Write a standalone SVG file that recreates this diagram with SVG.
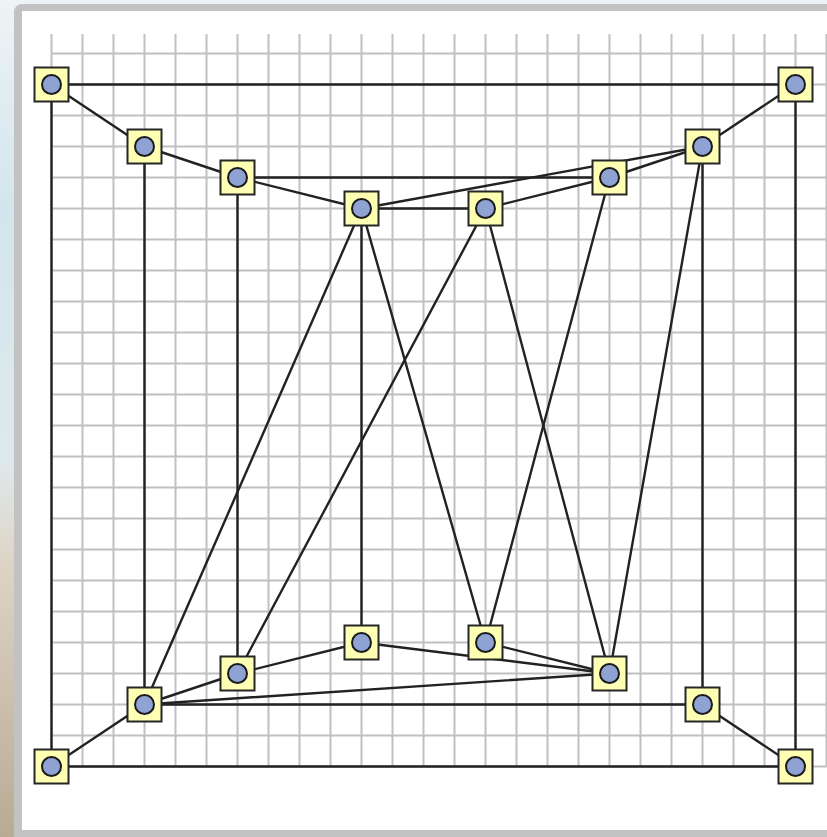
<svg xmlns="http://www.w3.org/2000/svg" width="827" height="837" viewBox="0 0 827 837">
<defs>
<linearGradient id="bg" x1="0" y1="0" x2="0" y2="1">
<stop offset="0" stop-color="#eef3f5"/>
<stop offset="0.25" stop-color="#d3e5ec"/>
<stop offset="0.55" stop-color="#dfe9ec"/>
<stop offset="0.68" stop-color="#ddd3c4"/>
<stop offset="1" stop-color="#b8ab95"/>
</linearGradient>
</defs>
<style>
.edge{stroke:#222;stroke-width:2.4;fill:none;stroke-linecap:round}
.sq{fill:#ffffb3;stroke:#262626;stroke-width:2}
.dot{fill:#8ea2d4;stroke:#1a1a1a;stroke-width:2}
.gl{stroke:#c0c0c0;stroke-width:2;fill:none}
</style>
<rect width="827" height="837" fill="url(#bg)"/>
<rect x="14" y="4" width="830" height="845" rx="8" fill="#c2c2c2"/>
<rect x="22" y="11" width="820" height="819" fill="#ffffff"/>
<g id="grid-lines">
<path class="gl" d="M51.5 34V767M82.5 34V767M113.5 34V767M144.5 34V767M175.5 34V767M206.5 34V767M237.5 34V767M268.5 34V767M299.5 34V767M330.5 34V767M361.5 34V767M392.5 34V767M423.5 34V767M454.5 34V767M485.5 34V767M516.5 34V767M547.5 34V767M578.5 34V767M609.5 34V767M640.5 34V767M671.5 34V767M702.5 34V767M733.5 34V767M764.5 34V767M795.5 34V767M826.5 34V767"/>
<path class="gl" d="M51.5 53.5H827M51.5 84.5H827M51.5 115.5H827M51.5 146.5H827M51.5 177.5H827M51.5 208.5H827M51.5 239.5H827M51.5 270.5H827M51.5 301.5H827M51.5 332.5H827M51.5 363.5H827M51.5 394.5H827M51.5 425.5H827M51.5 456.5H827M51.5 487.5H827M51.5 518.5H827M51.5 549.5H827M51.5 580.5H827M51.5 611.5H827M51.5 642.5H827M51.5 673.5H827M51.5 704.5H827M51.5 735.5H827M51.5 766.5H827"/>
</g>
<g id="connectors">
<line class="edge" x1="51.5" y1="84.5" x2="795.5" y2="84.5"/>
<line class="edge" x1="51.5" y1="84.5" x2="51.5" y2="766.5"/>
<line class="edge" x1="51.5" y1="84.5" x2="144.5" y2="146.5"/>
<line class="edge" x1="795.5" y1="84.5" x2="795.5" y2="766.5"/>
<line class="edge" x1="795.5" y1="84.5" x2="702.5" y2="146.5"/>
<line class="edge" x1="144.5" y1="146.5" x2="144.5" y2="704.5"/>
<line class="edge" x1="144.5" y1="146.5" x2="237.5" y2="177.5"/>
<line class="edge" x1="237.5" y1="177.5" x2="609.5" y2="177.5"/>
<line class="edge" x1="237.5" y1="177.5" x2="237.5" y2="673.5"/>
<line class="edge" x1="237.5" y1="177.5" x2="361.5" y2="208.5"/>
<line class="edge" x1="361.5" y1="208.5" x2="485.5" y2="208.5"/>
<line class="edge" x1="361.5" y1="208.5" x2="702.5" y2="146.5"/>
<line class="edge" x1="485.5" y1="208.5" x2="609.5" y2="177.5"/>
<line class="edge" x1="609.5" y1="177.5" x2="702.5" y2="146.5"/>
<line class="edge" x1="361.5" y1="208.5" x2="361.5" y2="642.5"/>
<line class="edge" x1="361.5" y1="208.5" x2="144.5" y2="704.5"/>
<line class="edge" x1="361.5" y1="208.5" x2="485.5" y2="642.5"/>
<line class="edge" x1="485.5" y1="208.5" x2="237.5" y2="673.5"/>
<line class="edge" x1="485.5" y1="208.5" x2="609.5" y2="673.5"/>
<line class="edge" x1="609.5" y1="177.5" x2="485.5" y2="642.5"/>
<line class="edge" x1="702.5" y1="146.5" x2="609.5" y2="673.5"/>
<line class="edge" x1="702.5" y1="146.5" x2="702.5" y2="704.5"/>
<line class="edge" x1="144.5" y1="704.5" x2="237.5" y2="673.5"/>
<line class="edge" x1="237.5" y1="673.5" x2="361.5" y2="642.5"/>
<line class="edge" x1="361.5" y1="642.5" x2="609.5" y2="673.5"/>
<line class="edge" x1="485.5" y1="642.5" x2="609.5" y2="673.5"/>
<line class="edge" x1="144.5" y1="704.5" x2="609.5" y2="673.5"/>
<line class="edge" x1="144.5" y1="704.5" x2="702.5" y2="704.5"/>
<line class="edge" x1="51.5" y1="766.5" x2="144.5" y2="704.5"/>
<line class="edge" x1="51.5" y1="766.5" x2="795.5" y2="766.5"/>
<line class="edge" x1="702.5" y1="704.5" x2="795.5" y2="766.5"/>
</g>
<g id="A1"><rect class="sq" x="34.5" y="67.5" width="34" height="34"/><circle class="dot" cx="51.5" cy="84.5" r="9.5"/></g>
<g id="B1"><rect class="sq" x="127.5" y="129.5" width="34" height="34"/><circle class="dot" cx="144.5" cy="146.5" r="9.5"/></g>
<g id="C1"><rect class="sq" x="220.5" y="160.5" width="34" height="34"/><circle class="dot" cx="237.5" cy="177.5" r="9.5"/></g>
<g id="D1"><rect class="sq" x="344.5" y="191.5" width="34" height="34"/><circle class="dot" cx="361.5" cy="208.5" r="9.5"/></g>
<g id="E1"><rect class="sq" x="468.5" y="191.5" width="34" height="34"/><circle class="dot" cx="485.5" cy="208.5" r="9.5"/></g>
<g id="F1"><rect class="sq" x="592.5" y="160.5" width="34" height="34"/><circle class="dot" cx="609.5" cy="177.5" r="9.5"/></g>
<g id="G1"><rect class="sq" x="685.5" y="129.5" width="34" height="34"/><circle class="dot" cx="702.5" cy="146.5" r="9.5"/></g>
<g id="H1"><rect class="sq" x="778.5" y="67.5" width="34" height="34"/><circle class="dot" cx="795.5" cy="84.5" r="9.5"/></g>
<g id="A2"><rect class="sq" x="34.5" y="749.5" width="34" height="34"/><circle class="dot" cx="51.5" cy="766.5" r="9.5"/></g>
<g id="B2"><rect class="sq" x="127.5" y="687.5" width="34" height="34"/><circle class="dot" cx="144.5" cy="704.5" r="9.5"/></g>
<g id="C2"><rect class="sq" x="220.5" y="656.5" width="34" height="34"/><circle class="dot" cx="237.5" cy="673.5" r="9.5"/></g>
<g id="D2"><rect class="sq" x="344.5" y="625.5" width="34" height="34"/><circle class="dot" cx="361.5" cy="642.5" r="9.5"/></g>
<g id="E2"><rect class="sq" x="468.5" y="625.5" width="34" height="34"/><circle class="dot" cx="485.5" cy="642.5" r="9.5"/></g>
<g id="F2"><rect class="sq" x="592.5" y="656.5" width="34" height="34"/><circle class="dot" cx="609.5" cy="673.5" r="9.5"/></g>
<g id="G2"><rect class="sq" x="685.5" y="687.5" width="34" height="34"/><circle class="dot" cx="702.5" cy="704.5" r="9.5"/></g>
<g id="H2"><rect class="sq" x="778.5" y="749.5" width="34" height="34"/><circle class="dot" cx="795.5" cy="766.5" r="9.5"/></g>
</svg>
